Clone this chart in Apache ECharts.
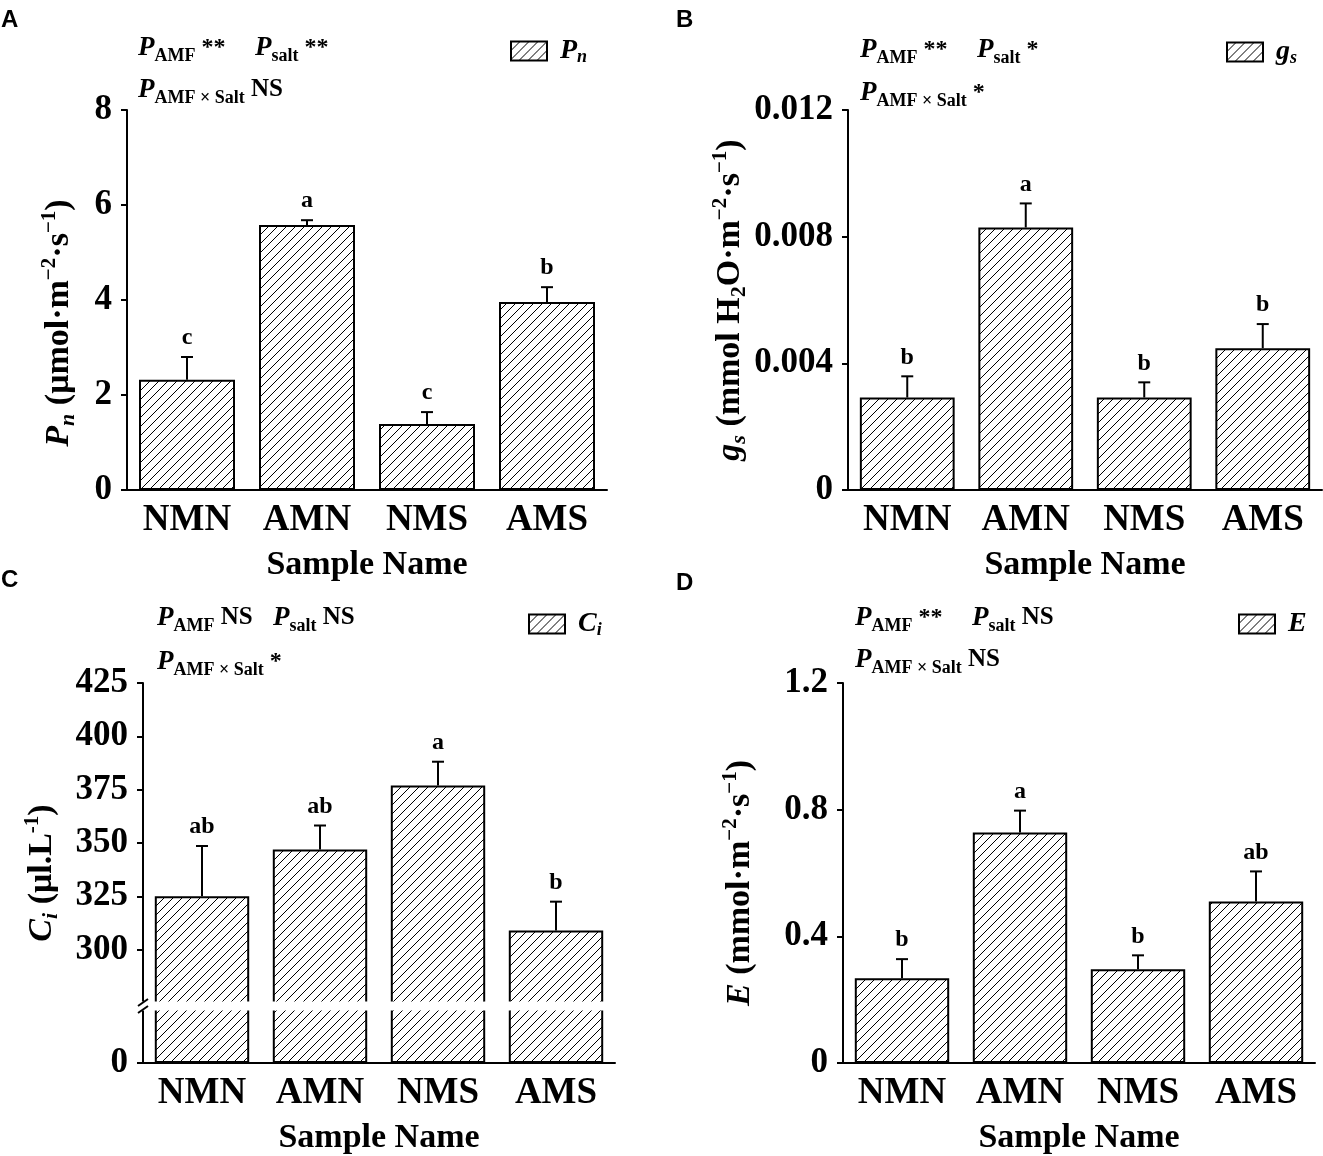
<!DOCTYPE html>
<html>
<head>
<meta charset="utf-8">
<script src="https://cdn.jsdelivr.net/npm/echarts@6/dist/echarts.min.js"></script>
<style>
html, body { margin: 0; padding: 0; background: #fff; }
#chart { width: 1323px; height: 1156px; }
</style>
</head>
<body>
<div id="chart"></div>
<script>
var categories = ['NMN', 'AMN', 'NMS', 'AMS'];

// A: Pn
var pnValues = [2.32, 5.58, 1.39, 3.96];
var pnErrors = [0.48, 0.10, 0.25, 0.31];
var pnLetters = ['c', 'a', 'c', 'b'];
var pnTicks = [0, 2, 4, 6, 8];

// B: gs
var gsValues = [0.00292, 0.00829, 0.00292, 0.00448];
var gsErrors = [0.00067, 0.00076, 0.00048, 0.00076];
var gsLetters = ['b', 'a', 'b', 'b'];
var gsTicks = [0, 0.004, 0.008, 0.012];

// C: Ci (broken axis)
var ciValues = [325, 347, 377, 309];
var ciErrors = [23.6, 11.2, 11.1, 13.5];
var ciLetters = ['ab', 'ab', 'a', 'b'];
var ciTicks = [300, 325, 350, 375, 400, 425];
var ciLowTicks = [0];

// D: E
var eValues = [0.268, 0.728, 0.296, 0.510];
var eErrors = [0.060, 0.069, 0.044, 0.095];
var eLetters = ['b', 'a', 'b', 'ab'];
var eTicks = [0, 0.4, 0.8, 1.2];

var serif = "'Liberation Serif', 'Times New Roman', serif";

// hatch fill "////"
function makeHatch() {
    var n = 9;
    var c = document.createElement('canvas');
    c.width = n; c.height = n;
    var g = c.getContext('2d');
    g.fillStyle = '#fff';
    g.fillRect(0, 0, n, n);
    g.strokeStyle = '#000';
    g.lineWidth = 1;
    g.beginPath();
    g.moveTo(0, n); g.lineTo(n, 0);
    g.moveTo(-1, 1); g.lineTo(1, -1);
    g.moveTo(n - 1, n + 1); g.lineTo(n + 1, n - 1);
    g.stroke();
    return { image: c, repeat: 'repeat' };
}
var hatch = makeHatch();

var annRich = {
    p: { fontFamily: serif, fontStyle: 'italic', fontWeight: 'bold', fontSize: 27, lineHeight: 34, color: '#000' },
    s: { fontFamily: serif, fontWeight: 'bold', fontSize: 18, lineHeight: 16, verticalAlign: 'bottom', color: '#000' },
    st: { fontFamily: serif, fontSize: 24, lineHeight: 34, color: '#000' },
    ns: { fontFamily: serif, fontWeight: 'bold', fontSize: 25, lineHeight: 34, color: '#000' }
};

var nameRich = {
    i: { fontFamily: serif, fontStyle: 'italic', fontWeight: 'bold', fontSize: 34, lineHeight: 40, color: '#000' },
    t: { fontFamily: serif, fontWeight: 'bold', fontSize: 34, lineHeight: 40, color: '#000' },
    b: { fontFamily: serif, fontStyle: 'italic', fontWeight: 'bold', fontSize: 22, lineHeight: 20, verticalAlign: 'bottom', color: '#000' },
    d: { fontFamily: serif, fontWeight: 'bold', fontSize: 22, lineHeight: 20, verticalAlign: 'bottom', color: '#000' },
    u: { fontFamily: serif, fontWeight: 'bold', fontSize: 21, lineHeight: 20, verticalAlign: 'top', color: '#000' }
};

var legendRich = {
    i: { fontFamily: serif, fontStyle: 'italic', fontWeight: 'bold', fontSize: 28, lineHeight: 30, color: '#000' },
    b: { fontFamily: serif, fontStyle: 'italic', fontWeight: 'bold', fontSize: 18, lineHeight: 16, verticalAlign: 'bottom', color: '#000' }
};
var legendLabels = { Pn: '{i|P}{b|n}', gs: '{i|g}{b|s}', Ci: '{i|C}{b|i}', E: '{i|E}' };

var axisLineStyle = { color: '#000', width: 2 };

function xAxis(grid, show) {
    return {
        type: 'category', gridIndex: grid, data: categories, show: show,
        axisLine: { lineStyle: axisLineStyle },
        axisTick: { alignWithLabel: true, length: 6, lineStyle: axisLineStyle },
        axisLabel: { margin: 12, fontFamily: serif, fontWeight: 'bold', fontSize: 37, color: '#000' },
        name: 'Sample Name', nameLocation: 'middle', nameGap: 58,
        nameTextStyle: { fontFamily: serif, fontWeight: 'bold', fontSize: 34, color: '#000' }
    };
}

function yAxis(grid, min, max, ticks, name, gap, shift) {
    return {
        type: 'value', gridIndex: grid, min: min, max: max,
        axisLine: { show: true, lineStyle: axisLineStyle },
        axisTick: { show: true, length: 6, lineStyle: axisLineStyle, customValues: ticks },
        axisLabel: { margin: 15, customValues: ticks, fontFamily: serif, fontWeight: 'bold', fontSize: 35, color: '#000' },
        splitLine: { show: false },
        name: name, nameLocation: 'middle', nameRotate: 90, nameGap: gap,
        nameTextStyle: { rich: nameRich, padding: [0, shift || 0, 0, 0] }
    };
}

function barSeries(name, values, grid) {
    return {
        type: 'bar', name: name, data: values, xAxisIndex: grid, yAxisIndex: grid,
        barWidth: '80%',
        itemStyle: { color: hatch, borderColor: '#000', borderWidth: 2 },
        emphasis: { disabled: true }
    };
}

function errSeries(values, errors, letters, grid) {
    return {
        type: 'custom', xAxisIndex: grid, yAxisIndex: grid, z: 5,
        data: values.map(function (v, i) { return [i, v, v + errors[i]]; }),
        renderItem: function (params, api) {
            var i = api.value(0);
            var low = api.coord([i, api.value(1)]);
            var high = api.coord([i, api.value(2)]);
            var line = { stroke: '#000', lineWidth: 2 };
            return {
                type: 'group',
                children: [
                    { type: 'line', shape: { x1: low[0], y1: low[1], x2: high[0], y2: high[1] }, style: line },
                    { type: 'line', shape: { x1: high[0] - 6, y1: high[1], x2: high[0] + 6, y2: high[1] }, style: line },
                    { type: 'text', x: high[0], y: high[1] - 7,
                      style: { text: letters[i], fontFamily: serif, fontWeight: 'bold', fontSize: 24,
                               fill: '#000', align: 'center', verticalAlign: 'bottom' } }
                ]
            };
        }
    };
}

function ann(text, left, top) {
    return { text: text, left: left, top: top, padding: 0, textStyle: { rich: annRich, fontSize: 20 } };
}
function panelLetter(text, left, top) {
    return { text: text, left: left, top: top, padding: 0,
             textStyle: { fontFamily: "'Liberation Sans', Arial, sans-serif", fontWeight: 'bold', fontSize: 24, color: '#000' } };
}
function legendAt(name, left, top) {
    return {
        data: [name], left: left, top: top, padding: 0,
        icon: 'rect', itemWidth: 36, itemHeight: 19,
        selectedMode: false,
        formatter: function (n) { return legendLabels[n]; },
        textStyle: { rich: legendRich, padding: [0, 0, 0, 8] }
    };
}

// panel C break layout
var ciUpper = { left: 143, top: 683, width: 472, height: 320 };
var ciLower = { left: 143, top: 1009, width: 472, height: 54 };

var myChart = echarts.init(document.getElementById('chart'));

var option = {
    backgroundColor: '#fff',
    animation: false,
    title: [
        panelLetter('A', 1, 8), panelLetter('B', 676, 8), panelLetter('C', 1, 568), panelLetter('D', 676, 571),
        ann('{p|P}{s|AMF}{st| **}', 138, 31), ann('{p|P}{s|salt}{st| **}', 255, 31),
        ann('{p|P}{s|AMF × Salt}{ns| NS}', 138, 73),
        ann('{p|P}{s|AMF}{st| **}', 860, 33), ann('{p|P}{s|salt}{st| *}', 977, 33),
        ann('{p|P}{s|AMF × Salt}{st| *}', 860, 76),
        ann('{p|P}{s|AMF}{ns| NS}', 157, 601), ann('{p|P}{s|salt}{ns| NS}', 273, 601),
        ann('{p|P}{s|AMF × Salt}{st| *}', 157, 645),
        ann('{p|P}{s|AMF}{st| **}', 855, 601), ann('{p|P}{s|salt}{ns| NS}', 972, 601),
        ann('{p|P}{s|AMF × Salt}{ns| NS}', 855, 643)
    ],
    legend: [
        legendAt('Pn', 510, 37),
        legendAt('gs', 1226, 38),
        legendAt('Ci', 528, 610),
        legendAt('E', 1238, 610)
    ],
    grid: [
        { left: 127, top: 110, width: 480, height: 380 },
        { left: 848, top: 110, width: 474, height: 380 },
        ciUpper,
        ciLower,
        { left: 843, top: 683, width: 472, height: 380 }
    ],
    xAxis: [xAxis(0, true), xAxis(1, true), xAxis(2, false), xAxis(3, true), xAxis(4, true)],
    yAxis: [
        yAxis(0, 0, 8, pnTicks, '{i|P}{b|n}{t| (μmol·m}{u|−2}{t|·s}{u|−1}{t|)}', 48, 46),
        yAxis(1, 0, 0.012, gsTicks, '{i|g}{b|s}{t| (mmol H}{d|2}{t|O·m}{u|−2}{t|·s}{u|−1}{t|)}', 96, 0),
        yAxis(2, 275, 425, ciTicks, '', 0),
        yAxis(3, 0, 25, ciLowTicks, '', 0),
        yAxis(4, 0, 1.2, eTicks, '{i|E}{t| (mmol·m}{u|−2}{t|·s}{u|−1}{t|)}', 83, 20)
    ],
    series: [
        barSeries('Pn', pnValues, 0), errSeries(pnValues, pnErrors, pnLetters, 0),
        barSeries('gs', gsValues, 1), errSeries(gsValues, gsErrors, gsLetters, 1),
        barSeries('Ci', ciValues, 2), barSeries('Ci low', ciValues, 3), errSeries(ciValues, ciErrors, ciLetters, 2),
        barSeries('E', eValues, 4), errSeries(eValues, eErrors, eLetters, 4)
    ],
    graphic: [
        // white gap of the broken axis in panel C
        { type: 'rect', z: 100,
          shape: { x: ciUpper.left - 10, y: ciUpper.top + ciUpper.height - 1.5,
                   width: ciUpper.width + 15, height: ciLower.top - ciUpper.top - ciUpper.height + 3 },
          style: { fill: '#fff' } },
        { type: 'line', z: 101,
          shape: { x1: ciUpper.left - 5, y1: ciUpper.top + ciUpper.height + 3, x2: ciUpper.left + 5, y2: ciUpper.top + ciUpper.height - 4 },
          style: { stroke: '#000', lineWidth: 2 } },
        { type: 'line', z: 101,
          shape: { x1: ciLower.left - 5, y1: ciLower.top + 4, x2: ciLower.left + 5, y2: ciLower.top - 3 },
          style: { stroke: '#000', lineWidth: 2 } },
        { type: 'text', z: 101, x: 42, y: (ciUpper.top + ciLower.top + ciLower.height) / 2, rotation: Math.PI / 2,
          style: { text: '{i|C}{b|i}{t| (μl.L}{u|-1}{t|)}', rich: nameRich, align: 'center', verticalAlign: 'middle' } }
    ]
};

myChart.setOption(option);
</script>
</body>
</html>
